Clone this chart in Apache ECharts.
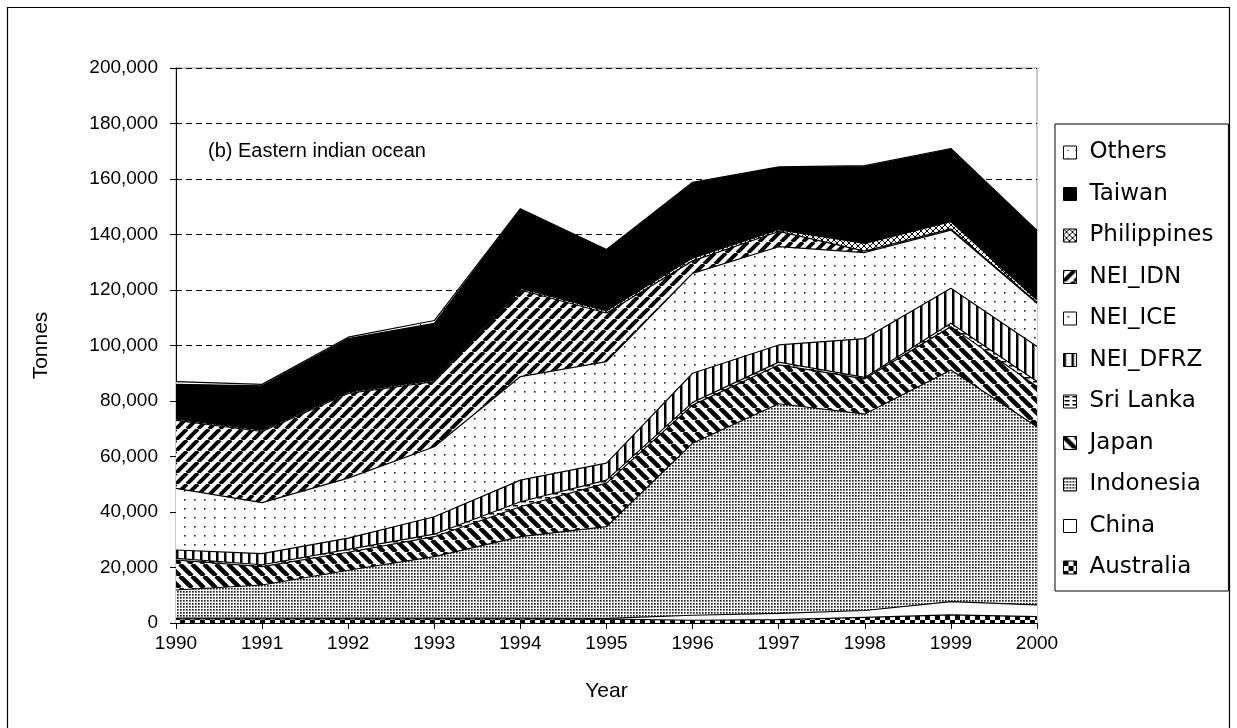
<!DOCTYPE html>
<html>
<head>
<meta charset="utf-8">
<script src="https://cdn.jsdelivr.net/npm/echarts@6/dist/echarts.min.js"></script>
<style>
  html, body { margin: 0; padding: 0; background: #fff; }
  #chart { width: 1237px; height: 728px; }
</style>
</head>
<body>
<div id="chart"></div>
<script>
// catch by country, tonnes
var years = ['1990', '1991', '1992', '1993', '1994', '1995', '1996', '1997', '1998', '1999', '2000']
var australia = [1500, 1500, 1500, 1500, 1500, 1400, 1000, 1200, 2000, 2900, 2300]
var china = [300, 300, 300, 300, 300, 300, 1800, 2300, 2500, 4800, 4200]
var indonesia = [10100, 11900, 17200, 22100, 29300, 33000, 62000, 75500, 70800, 83500, 64200]
var japan = [10800, 6600, 6500, 7200, 10800, 15700, 13700, 14000, 12700, 15600, 14500]
var sriLanka = [600, 700, 1000, 900, 1800, 1100, 1000, 1000, 500, 1200, 1800]
var neiDfrz = [3000, 4000, 4100, 6300, 7800, 6100, 10500, 6200, 14000, 12600, 12600]
var neiIce = [22200, 18400, 21600, 25200, 37300, 36600, 36000, 35400, 31000, 21000, 15600]
var neiIdn = [24500, 25600, 30500, 23500, 31200, 17500, 4500, 5500, 500, 400, 300]
var philippines = [500, 500, 500, 500, 600, 800, 1000, 600, 2800, 2600, 900]
var taiwan = [12500, 16000, 19300, 20500, 28400, 21900, 27000, 22400, 27700, 26100, 24800]
var others = [1000, 500, 500, 1000, 300, 200, 300, 300, 300, 300, 300]

// black & white fill patterns, like the old excel print
function pattern (w, h, draw) {
  var c = document.createElement('canvas')
  c.width = w
  c.height = h
  var ctx = c.getContext('2d')
  ctx.fillStyle = '#fff'
  ctx.fillRect(0, 0, w, h)
  ctx.fillStyle = '#000'
  ctx.strokeStyle = '#000'
  draw(ctx)
  return { image: c, repeat: 'repeat' }
}

function diag (ctx, s, lw, down) {
  ctx.lineWidth = lw
  for (var k = -1; k <= 1; k++) {
    ctx.beginPath()
    if (down) {
      ctx.moveTo(k * s, 0)
      ctx.lineTo(k * s + s, s)
    } else {
      ctx.moveTo(k * s, s)
      ctx.lineTo(k * s + s, 0)
    }
    ctx.stroke()
  }
}

var fills = {
  Others: pattern(8, 8, function (ctx) { ctx.fillRect(4, 4, 1, 1) }),
  Taiwan: '#000',
  Philippines: pattern(6, 6, function (ctx) { diag(ctx, 6, 1, true); diag(ctx, 6, 1, false) }),
  NEI_IDN: pattern(11, 11, function (ctx) { diag(ctx, 11, 4, false) }),
  NEI_ICE: pattern(10, 9, function (ctx) { ctx.fillStyle = '#222'; ctx.fillRect(4, 4, 1.6, 1.6) }),
  NEI_DFRZ: pattern(8, 8, function (ctx) { ctx.fillRect(0, 0, 2.5, 8) }),
  'Sri Lanka': pattern(8, 4, function (ctx) { ctx.fillRect(1, 1, 5, 1.5) }),
  Japan: pattern(12, 12, function (ctx) { diag(ctx, 12, 4.5, true) }),
  Indonesia: pattern(3, 3, function (ctx) { ctx.fillStyle = '#222'; ctx.fillRect(0, 0, 1.7, 1.7) }),
  China: '#fff',
  Australia: pattern(10, 10, function (ctx) { ctx.fillRect(0, 0, 5, 5); ctx.fillRect(5, 5, 5, 5) })
}

var seriesList = [
  ['Australia', australia],
  ['China', china],
  ['Indonesia', indonesia],
  ['Japan', japan],
  ['Sri Lanka', sriLanka],
  ['NEI_DFRZ', neiDfrz],
  ['NEI_ICE', neiIce],
  ['NEI_IDN', neiIdn],
  ['Philippines', philippines],
  ['Taiwan', taiwan],
  ['Others', others]
]

var font = 'Liberation Sans, Arial, sans-serif'
var myChart = echarts.init(document.getElementById('chart'))
myChart.setOption({
  animation: false,
  backgroundColor: '#fff',
  textStyle: { fontFamily: font, color: '#000' },
  grid: {
    left: 176,
    right: 200,
    top: 68,
    bottom: 105,
    show: true,
    borderColor: '#9a9a9a',
    borderWidth: 1
  },
  legend: {
    orient: 'vertical',
    left: 1055,
    top: 124,
    padding: [17, 15, 12, 8],
    backgroundColor: '#fff',
    borderColor: '#000',
    borderWidth: 1,
    borderRadius: 0,
    icon: 'rect',
    itemWidth: 13,
    itemHeight: 13,
    itemGap: 18.5,
    textStyle: { fontFamily: 'DejaVu Sans', fontSize: 23, color: '#000', padding: [0, 0, 0, 8] },
    data: seriesList.slice().reverse().map(function (s) {
      return { name: s[0], itemStyle: { color: fills[s[0]], borderColor: '#000', borderWidth: 1 } }
    })
  },
  xAxis: {
    type: 'category',
    data: years,
    boundaryGap: false,
    name: 'Year',
    nameLocation: 'middle',
    nameGap: 58,
    nameTextStyle: { fontSize: 21, color: '#000' },
    axisLine: { lineStyle: { color: '#000', width: 1 } },
    axisTick: { show: true, length: 6, lineStyle: { color: '#000' } },
    axisLabel: { fontSize: 19, color: '#000', margin: 11 },
    splitLine: { show: false }
  },
  yAxis: {
    type: 'value',
    min: 0,
    max: 200000,
    interval: 20000,
    name: 'Tonnes',
    nameLocation: 'middle',
    nameGap: 124,
    nameTextStyle: { fontSize: 21, color: '#000' },
    axisLine: { show: true, lineStyle: { color: '#000', width: 1 } },
    axisTick: { show: true, length: 6, lineStyle: { color: '#000' } },
    axisLabel: {
      fontSize: 19,
      color: '#000',
      margin: 18,
      formatter: function (v) { return v.toLocaleString('en-US') }
    },
    splitLine: { show: true, lineStyle: { color: '#000', type: [6, 4], width: 1 } }
  },
  graphic: [
    {
      type: 'rect',
      shape: { x: 7.5, y: 7.5, width: 1222, height: 740 },
      style: { fill: 'none', stroke: '#000', lineWidth: 1.2 },
      silent: true
    },
    {
      type: 'text',
      left: 208,
      top: 141,
      style: { text: '(b) Eastern indian ocean', font: '20px Liberation Sans, Arial, sans-serif', fill: '#000' },
      z: 100
    }
  ],
  series: seriesList.map(function (s, i) {
    return {
      name: s[0],
      type: 'line',
      stack: 'catch',
      data: s[1],
      symbol: 'none',
      z: 20 - i,
      lineStyle: { color: '#000', width: 1.2 },
      itemStyle: { color: '#000' },
      areaStyle: { color: fills[s[0]], opacity: 1 },
      emphasis: { disabled: true }
    }
  })
})
</script>
</body>
</html>
